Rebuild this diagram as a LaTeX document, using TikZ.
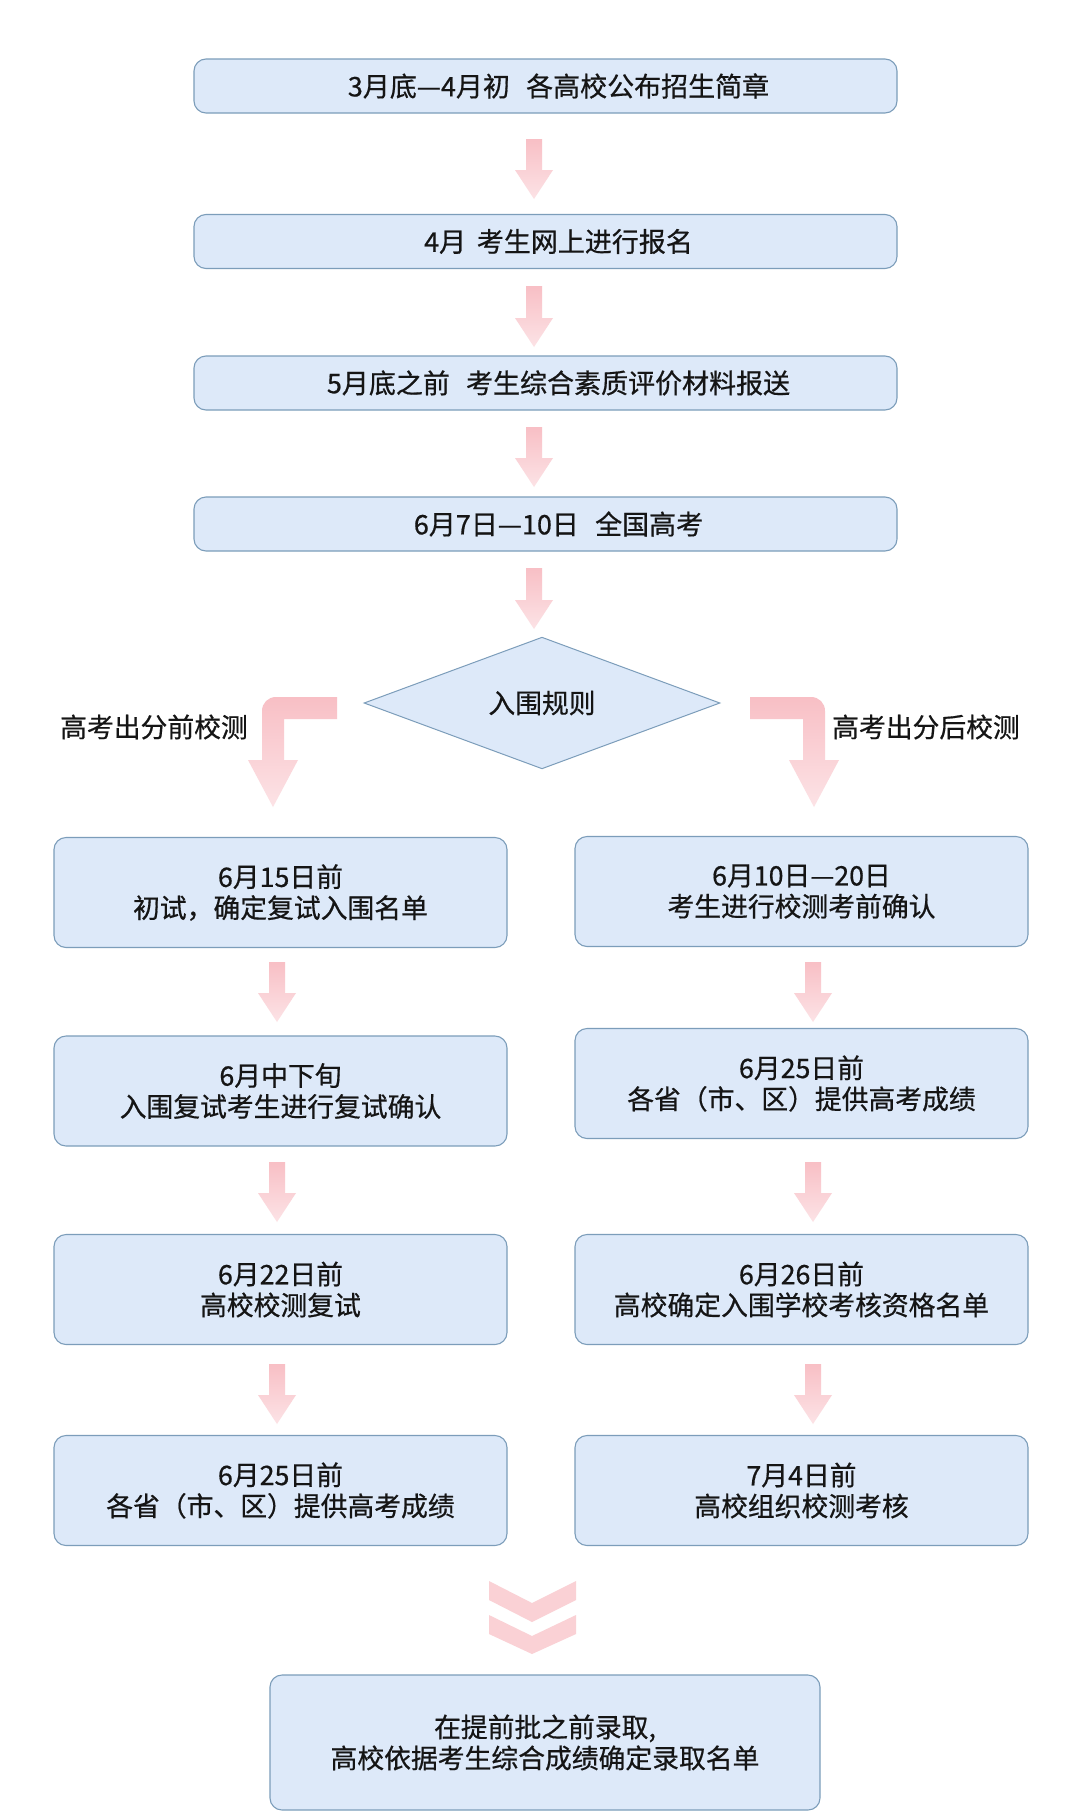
\documentclass[tikz,border=0pt]{standalone}
\usepackage{fontspec}
\setmainfont{Noto Sans CJK SC}[FakeBold=0.6]
\usetikzlibrary{shapes.geometric,calc}
\definecolor{boxfill}{HTML}{DDE9F9}
\definecolor{boxline}{HTML}{7C9DBA}
\definecolor{arrowA}{HTML}{F8BFC5}
\definecolor{arrowB}{HTML}{FCE3E6}
\definecolor{txt}{HTML}{151515}
\newcommand\fatarrow[2]{%
  \shade[top color=arrowA, bottom color=arrowB] let \p1=(#1), \p2=(#2) in
    (\x1-8pt,\y1) -- (\x1+8pt,\y1) -- (\x1+8pt,\y2+29pt) -- (\x1+19pt,\y2+29pt)
    -- (\x2,\y2) -- (\x1-19pt,\y2+29pt) -- (\x1-8pt,\y2+29pt) -- cycle;}
\tikzset{
  basebox/.style={draw=boxline, line width=1.1pt, fill=boxfill, rounded corners=12pt,
    inner sep=0pt, align=center, text=txt, font=\fontsize{26.8}{31}\selectfont},
  topbox/.style={basebox, minimum width=703pt, minimum height=54pt},
  toptext/.style={text=txt, inner sep=0pt, font=\fontsize{27}{31}\selectfont},
  colbox/.style={basebox, minimum width=453pt, minimum height=110pt},
  endbox/.style={basebox, minimum width=550pt, minimum height=135pt},
  rulebox/.style={diamond, draw=boxline, line width=1pt, fill=boxfill, inner sep=0pt,
    minimum width=356pt, minimum height=124pt, text=txt, font=\fontsize{26.8}{31}\selectfont},
  sidelabel/.style={text=txt, font=\fontsize{26.8}{31}\selectfont, inner sep=0pt},
}
\begin{document}
\begin{tikzpicture}[x=1pt,y=-1pt]
\fill[white] (0,0) rectangle (1080,1812);
\useasboundingbox (0,0) rectangle (1080,1812);

% top boxes (text sits a little right of centre, as in the reference)
\node[topbox] (t1) at (545.5,86) {};
\node[topbox] (t2) at (545.5,241.5) {};
\node[topbox] (t3) at (545.5,383) {};
\node[topbox] (t4) at (545.5,524) {};
\node[toptext] (t1t) at ($(t1.center)+(13,0)$) {3月底—4月初\hspace{.6em}各高校公布招生简章};
\node[toptext] (t2t) at ($(t2.center)+(13,0)$) {4月\hspace{.4em}考生网上进行报名};
\node[toptext] (t3t) at ($(t3.center)+(13,0)$) {5月底之前\hspace{.6em}考生综合素质评价材料报送};
\node[toptext] (t4t) at ($(t4.center)+(13,0)$) {6月7日—10日\hspace{.6em}全国高考};

% diamond
\node[rulebox] (rule) at (542,703) {入围规则};

% side labels
\node[sidelabel] (lbl) at (154,727) {高考出分前校测};
\node[sidelabel] (lbr) at (926,727) {高考出分后校测};

% left column
\node[colbox] (l1) at (280.5,892.5) {6月15日前\\初试，确定复试入围名单};
\node[colbox] (l2) at (280.5,1091) {6月中下旬\\入围复试考生进行复试确认};
\node[colbox] (l3) at (280.5,1289.5) {6月22日前\\高校校测复试};
\node[colbox] (l4) at (280.5,1490.5) {6月25日前\\各省（市、区）提供高考成绩};

% right column
\node[colbox] (r1) at (801.5,891.5) {6月10日—20日\\考生进行校测考前确认};
\node[colbox] (r2) at (801.5,1083.5) {6月25日前\\各省（市、区）提供高考成绩};
\node[colbox] (r3) at (801.5,1289.5) {6月26日前\\高校确定入围学校考核资格名单};
\node[colbox] (r4) at (801.5,1490.5) {7月4日前\\高校组织校测考核};

% final box
\node[endbox] (fin) at (545,1742.5) {在提前批之前录取,\\高校依据考生综合成绩确定录取名单};

% arrow coordinates
\coordinate (a1s) at (534,139);  \coordinate (a1e) at (534,199);
\coordinate (a2s) at (534,286);  \coordinate (a2e) at (534,347);
\coordinate (a3s) at (534,427);  \coordinate (a3e) at (534,487);
\coordinate (a4s) at (534,568);  \coordinate (a4e) at (534,629);
\fatarrow{a1s}{a1e}
\fatarrow{a2s}{a2e}
\fatarrow{a3s}{a3e}
\fatarrow{a4s}{a4e}

\foreach \ys/\ye [count=\i] in {962/1022,1162/1222,1364/1424}{
  \coordinate (la\i s) at (277,\ys); \coordinate (la\i e) at (277,\ye);
  \coordinate (ra\i s) at (813,\ys); \coordinate (ra\i e) at (813,\ye);
  \fatarrow{la\i s}{la\i e}
  \fatarrow{ra\i s}{ra\i e}
}

% bent arrows
\shade[top color=arrowA, bottom color=arrowB]
  (337,697) -- (276,697) .. controls (268,697) and (262,703) .. (262,711)
  -- (262,760) -- (248,760) -- (273,807) -- (298,760) -- (284,760)
  -- (284,719) -- (337,719) -- cycle;
\shade[top color=arrowA, bottom color=arrowB]
  (750,697) -- (811,697) .. controls (819,697) and (825,703) .. (825,711)
  -- (825,760) -- (839,760) -- (814,807) -- (789,760) -- (803,760)
  -- (803,719) -- (750,719) -- cycle;

% double chevron
\fill[arrowA!72!white]
  (489,1581) -- (532,1603) -- (576,1581) -- (576,1600) -- (532,1622) -- (489,1600) -- cycle;
\fill[arrowA!72!white]
  (489,1615) -- (532,1636) -- (576,1615) -- (576,1634) -- (532,1654) -- (489,1634) -- cycle;
\end{tikzpicture}
\end{document}
